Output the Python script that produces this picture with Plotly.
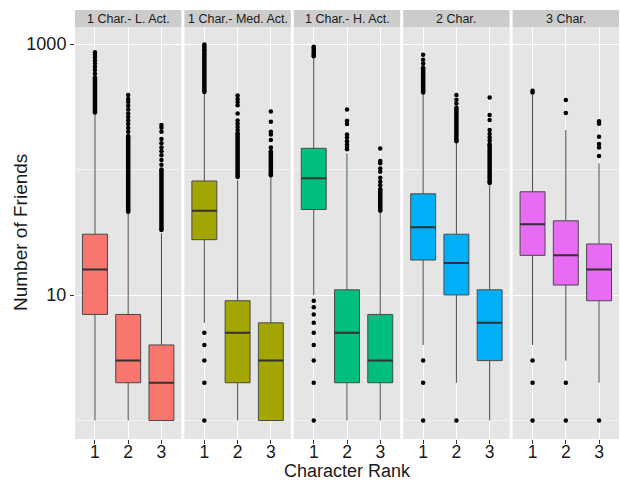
import plotly.graph_objects as go
from plotly.subplots import make_subplots

# ---- data -------------------------------------------------------------
facets = ["1 Char.- L. Act.", "1 Char.- Med. Act.", "1 Char.- H. Act.", "2 Char.", "3 Char."]
colors = ["#F8766D", "#A3A500", "#00BF7D", "#00B0F6", "#E76BF3"]
ranks = [1, 2, 3]
rank_labels = ["1", "2", "3"]

# box statistics per facet, one value per character rank
q1 = [[7, 2, 1], [27.6, 2, 1], [48, 2, 2], [19, 10, 3], [20.7, 12, 9]]
median = [[16, 3, 2], [47, 5, 3], [85, 5, 3], [34.6, 18, 6], [36.6, 20.7, 16]]
q3 = [[30.5, 7, 4], [81, 9, 6], [147.5, 11, 7], [64, 30.5, 11], [66.5, 39, 25.5]]
whisker_low = [[1, 1, 1], [6, 1, 1], [10, 1, 1], [4, 2, 1], [4, 3, 2]]
whisker_high = [[280, 45, 31], [405, 82, 87], [770, 134, 45], [395, 167, 75], [395, 206, 112]]

# densely packed outliers, given as [lowest, highest] stretches
dense_outliers = [
    [[285, 540], [46, 185], [33, 100]],
    [[415, 900], [87, 195], [90, 140]],
    [[800, 950], None, [47, 70]],
    [[410, 650], [168, 310], [78, 160]],
    [None, None, None],
]

# individual outliers
outliers = [
    [[580, 620, 660, 700, 740, 780, 820, 860],
     [200, 214, 230, 246, 262, 280, 300, 322, 345, 365, 392],
     [109, 119, 130, 140, 150, 162, 175, 200, 215, 226]],
    [[930, 960, 990, 5, 4, 3, 2, 1],
     [206, 218, 232, 246, 280, 325, 345, 365, 388],
     [150, 172, 190, 200, 240, 290]],
    [[9, 8, 7, 6, 5, 4, 3, 2, 1],
     [145, 152, 158, 168, 180, 190, 230, 245, 300],
     [75, 80, 86, 96, 102, 112, 117, 147]],
    [[700, 750, 820, 3, 2, 1],
     [335, 360, 392, 1],
     [170, 180, 192, 206, 248, 272, 375]],
    [[410, 425, 3, 2, 1],
     [282, 358, 2, 1],
     [128, 150, 160, 182, 232, 242, 1]],
]

y_ticks = [10, 1000]
y_minor = [1, 100]

# ---- layout geometry (pixels) ----------------------------------------
W, H = 620, 481
m_left, m_right, m_top, m_bottom = 75, 1, 27, 42
plot_w = W - m_left - m_right
plot_h = H - m_top - m_bottom
gap_px = 3
box_width = 0.75

FONT = "Liberation Sans, Arial, Helvetica, sans-serif"
TEXT = "#1a1a1a"

fig = make_subplots(rows=1, cols=5, shared_yaxes=True,
                    horizontal_spacing=gap_px / plot_w)

for i in range(5):
    col = i + 1
    fig.add_trace(go.Box(
        x=ranks, q1=q1[i], median=median[i], q3=q3[i],
        lowerfence=whisker_low[i], upperfence=whisker_high[i],
        fillcolor=colors[i], line=dict(color="#4a4a4a", width=1),
        whiskerwidth=0, width=box_width, boxpoints=False,
        hoverinfo="skip", showlegend=False,
    ), row=1, col=col)

    # thicker median bars
    mx, my = [], []
    for r, m in zip(ranks, median[i]):
        mx += [r - box_width / 2, r + box_width / 2, None]
        my += [m, m, None]
    fig.add_trace(go.Scatter(x=mx, y=my, mode="lines",
                             line=dict(color="#333333", width=2),
                             hoverinfo="skip", showlegend=False), row=1, col=col)

    # dense outlier stretches
    dx, dy = [], []
    for r, run in zip(ranks, dense_outliers[i]):
        if run:
            dx += [r, r, None]
            dy += [run[0], run[1], None]
    if dx:
        fig.add_trace(go.Scatter(x=dx, y=dy, mode="lines+markers",
                                 line=dict(color="black", width=4.5),
                                 marker=dict(color="black", size=4.5),
                                 hoverinfo="skip", showlegend=False), row=1, col=col)

    # individual outliers
    ox, oy = [], []
    for r, pts in zip(ranks, outliers[i]):
        ox += [r] * len(pts)
        oy += pts
    fig.add_trace(go.Scatter(x=ox, y=oy, mode="markers",
                             marker=dict(color="black", size=4.5),
                             hoverinfo="skip", showlegend=False), row=1, col=col)

    fig.update_xaxes(range=[0.4, 3.6], tickvals=ranks, ticktext=rank_labels,
                     ticks="outside", ticklen=4, tickcolor="#333333", tickwidth=1,
                     ticklabelstandoff=-7,
                     showgrid=True, gridcolor="white", gridwidth=1.1,
                     zeroline=False, showline=False,
                     tickfont=dict(size=17.5, color=TEXT, family=FONT),
                     row=1, col=col)

fig.update_yaxes(type="log", range=[(420.5 - 439) / 125.5, (420.5 - 27) / 125.5],
                 tickvals=y_ticks, ticktext=[str(v) for v in y_ticks],
                 showgrid=True, gridcolor="white", gridwidth=1.1, zeroline=False,
                 showline=False,
                 minor=dict(tickvals=y_minor, showgrid=True, gridcolor="#F2F2F2",
                            gridwidth=0.6, ticks=""),
                 tickfont=dict(size=18, color=TEXT, family=FONT))
fig.update_yaxes(ticks="outside", ticklen=4, tickcolor="#333333", tickwidth=1,
                 row=1, col=1)

# facet strips
strip_h = 17 / plot_h
for i in range(5):
    xa = fig.layout["xaxis" if i == 0 else f"xaxis{i + 1}"]
    d0, d1 = xa.domain
    fig.add_shape(type="rect", xref="paper", yref="paper",
                  x0=d0, x1=d1, y0=1, y1=1 + strip_h,
                  fillcolor="#CCCCCC", line=dict(width=0), layer="below")
    fig.add_annotation(text=facets[i], xref="paper", yref="paper",
                       x=(d0 + d1) / 2, y=1 + strip_h / 2, showarrow=False,
                       xanchor="center", yanchor="middle",
                       font=dict(size=12.5, color=TEXT, family=FONT))

# axis titles
fig.add_annotation(text="Character Rank", xref="paper", yref="paper",
                   x=0.5, y=-31.5 / plot_h, showarrow=False,
                   xanchor="center", yanchor="middle", borderpad=0,
                   font=dict(size=18, color=TEXT, family=FONT))
fig.add_annotation(text="Number of Friends", xref="paper", yref="paper",
                   x=(20 - m_left) / plot_w, y=0.5 + (439 - 233 - plot_h / 2) / plot_h,
                   textangle=-90, showarrow=False,
                   xanchor="center", yanchor="middle",
                   font=dict(size=19, color=TEXT, family=FONT))

fig.update_layout(
    width=W, height=H,
    margin=dict(l=m_left, r=m_right, t=m_top, b=m_bottom, autoexpand=False),
    plot_bgcolor="#E5E5E5", paper_bgcolor="white",
    font=dict(family=FONT, color=TEXT),
    showlegend=False,
)

fig.write_html("out.html")
